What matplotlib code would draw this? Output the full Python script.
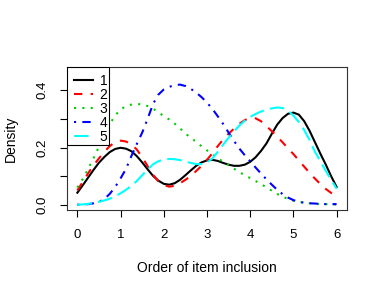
import numpy as np
import matplotlib
matplotlib.use("Agg")
import matplotlib.pyplot as plt
from matplotlib.patches import Rectangle

# density of each item's position, every 0.125
order = np.arange(0, 6.001, 0.125)
dens1 = [0.042, 0.068, 0.095, 0.122, 0.147, 0.167, 0.184, 0.195, 0.199, 0.196, 0.187, 0.170, 0.148,
         0.124, 0.101, 0.084, 0.073, 0.070, 0.075, 0.087, 0.103, 0.120, 0.136, 0.148, 0.155, 0.157,
         0.153, 0.146, 0.140, 0.136, 0.136, 0.140, 0.150, 0.166, 0.188, 0.214, 0.248, 0.280, 0.303,
         0.318, 0.322, 0.315, 0.292, 0.258, 0.218, 0.178, 0.140, 0.099, 0.062]
dens2 = [0.050, 0.080, 0.110, 0.138, 0.162, 0.185, 0.205, 0.219, 0.224, 0.221, 0.211, 0.193, 0.166,
         0.135, 0.105, 0.082, 0.069, 0.063, 0.066, 0.075, 0.087, 0.100, 0.118, 0.136, 0.157, 0.180,
         0.205, 0.228, 0.248, 0.266, 0.283, 0.296, 0.303, 0.302, 0.292, 0.275, 0.257, 0.238, 0.218,
         0.197, 0.177, 0.155, 0.133, 0.111, 0.091, 0.072, 0.055, 0.041, 0.030]
dens3 = [0.060, 0.090, 0.125, 0.163, 0.203, 0.245, 0.282, 0.312, 0.333, 0.345, 0.350, 0.352, 0.351,
         0.345, 0.336, 0.323, 0.310, 0.298, 0.284, 0.267, 0.249, 0.234, 0.220, 0.204, 0.190, 0.176,
         0.162, 0.150, 0.138, 0.126, 0.114, 0.103, 0.093, 0.083, 0.072, 0.061, 0.049, 0.038, 0.028,
         0.020, 0.014, 0.010, 0.007, 0.005, 0.003, 0.002, 0.002, 0.001, 0.001]
dens4 = [0.000, 0.001, 0.002, 0.005, 0.010, 0.020, 0.038, 0.062, 0.092, 0.125, 0.170, 0.212, 0.252,
         0.300, 0.352, 0.385, 0.403, 0.412, 0.418, 0.420, 0.415, 0.405, 0.392, 0.376, 0.357, 0.335,
         0.309, 0.282, 0.252, 0.223, 0.196, 0.173, 0.152, 0.130, 0.109, 0.089, 0.070, 0.052, 0.037,
         0.025, 0.016, 0.010, 0.007, 0.005, 0.004, 0.003, 0.002, 0.002, 0.002]
dens5 = [0.000, 0.001, 0.003, 0.006, 0.010, 0.015, 0.021, 0.029, 0.040, 0.052, 0.066, 0.083, 0.103,
         0.123, 0.141, 0.152, 0.158, 0.160, 0.159, 0.156, 0.151, 0.146, 0.142, 0.142, 0.148, 0.162,
         0.185, 0.210, 0.234, 0.256, 0.277, 0.294, 0.307, 0.317, 0.326, 0.332, 0.337, 0.340, 0.338,
         0.329, 0.312, 0.289, 0.261, 0.226, 0.185, 0.152, 0.118, 0.087, 0.056]
labels = ["1", "2", "3", "4", "5"]

xticks = [0, 1, 2, 3, 4, 5, 6]
yticks = [0.0, 0.1, 0.2, 0.3, 0.4]
ytick_labels = ["0.0", "", "0.2", "", "0.4"]

# R's default palette and lty 1..5
colors = ["#000000", "#FF0000", "#00CD00", "#0000FF", "#00FFFF"]
dashes = [None, (4, 4), (1, 3), (1, 3, 4, 3), (7, 3)]

plt.rcParams["font.family"] = ["Liberation Sans", "DejaVu Sans"]
plt.rcParams["font.size"] = 9.5

fig = plt.figure(figsize=(3.82, 2.94), dpi=100)
ax = fig.add_axes([67 / 382, 1 - 210 / 294, 280 / 382, 143 / 294])

for y, lab, c, d in zip([dens1, dens2, dens3, dens4, dens5], labels, colors, dashes):
    line, = ax.plot(order, y, color=c, lw=1.5, label=lab)
    if d is not None:
        line.set_dashes(d)

ax.set_xlim(-0.24, 6.24)
ax.set_ylim(-0.0185, 0.4815)
ax.set_xticks(xticks)
ax.set_yticks(yticks)
ax.set_yticklabels(ytick_labels, rotation=90, va="center")
ax.tick_params(direction="out", length=5, width=0.8, pad=8.5, colors="black")

for s in ax.spines.values():
    s.set_linewidth(0.8)
    s.set_color("#333333")

ax.set_xlabel("Order of item inclusion", va="center", fontsize=10)
ax.xaxis.set_label_coords(0.5, -0.406)
ax.set_ylabel("Density", va="center", fontsize=10)
ax.yaxis.set_label_coords(-0.2, 0.5)

# R style legend box: white, tight against the top left corner
ax.add_patch(Rectangle((0, 0.455), 0.149, 0.545, transform=ax.transAxes,
                       facecolor="white", edgecolor="black", lw=0.8, zorder=3))
leg = ax.legend(loc="upper left", bbox_to_anchor=(0.025, 0.95), borderaxespad=0, borderpad=0,
                frameon=False, fontsize=10, handlelength=1.35, handletextpad=0.5,
                labelspacing=0.0)
leg.set_zorder(4)

fig.savefig("out.png", dpi=100)
